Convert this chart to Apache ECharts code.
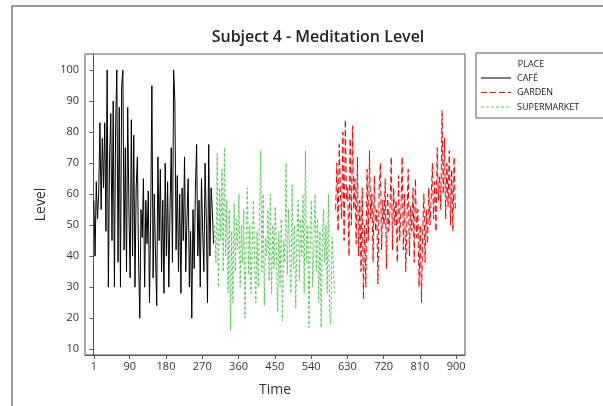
<!DOCTYPE html>
<html>
<head>
<meta charset="utf-8">
<script src="https://cdn.jsdelivr.net/npm/echarts@6/dist/echarts.min.js"></script>
<style>
html,body{margin:0;padding:0;background:#fff;}
#chart{width:603px;height:406px;}
</style>
</head>
<body>
<div id="chart"></div>
<script>
// Tick labels
const xTicks = [1, 90, 180, 270, 360, 450, 540, 630, 720, 810, 900];
const yTicks = [10, 20, 30, 40, 50, 60, 70, 80, 90, 100];
const places = ['CAFÉ', 'GARDEN', 'SUPERMARKET'];

// Time sampling of each segment (start time, step between readings)
const cafeStart = 1, superStart = 301, gardenStart = 601, timeStep = 3;

// Meditation level values
const cafe = [
  58, 40, 64, 52, 60, 83, 55, 78,
  62, 83, 48, 100, 30, 72, 86, 45,
  90, 30, 82, 100, 38, 88, 30, 95,
  100, 42, 75, 35, 88, 55, 33, 84,
  40, 79, 30, 62, 72, 38, 20, 55,
  46, 65, 30, 58, 44, 61, 25, 52,
  95, 33, 60, 40, 24, 72, 45, 68,
  35, 58, 28, 70, 40, 64, 30, 55,
  75, 38, 100, 90, 42, 66, 35, 60,
  28, 62, 45, 72, 35, 52, 65, 30,
  48, 20, 55, 36, 62, 76, 40, 58,
  30, 65, 48, 35, 70, 52, 25, 76,
  40, 62, 55, 44
];
const supermarket = [
  50, 38, 73, 30, 62, 45, 68, 35,
  75, 40, 58, 28, 55, 16, 48, 25,
  57, 35, 52, 42, 60, 30, 50, 38,
  55, 20, 45, 62, 34, 50, 28, 44,
  58, 38, 25, 48, 30, 52, 74, 35,
  60, 24, 46, 40, 55, 32, 60, 28,
  50, 36, 56, 42, 22, 48, 30, 52,
  19, 45, 38, 70, 34, 55, 40, 28,
  63, 36, 50, 23, 46, 58, 32, 52,
  40, 60, 28, 74, 38, 50, 17, 46,
  58, 30, 44, 60, 35, 52, 25, 48,
  17, 45, 55, 38, 50, 28, 60, 22,
  18, 46, 38, 28
];
const garden = [
  55, 70, 48, 76, 60, 52, 80, 45,
  84, 58, 62, 40, 78, 50, 82, 55,
  65, 44, 72, 40, 58, 35, 62, 26,
  50, 30, 68, 45, 74, 52, 60, 38,
  66, 48, 55, 31, 62, 70, 42, 58,
  50, 65, 36, 60, 48, 55, 72, 42,
  62, 50, 58, 38, 66, 45, 55, 72,
  42, 60, 35, 52, 68, 40, 56, 48,
  62, 38, 65, 46, 55, 30, 50, 25,
  48, 60, 38, 55, 44, 62, 50, 58,
  70, 52, 64, 48, 75, 58, 66, 55,
  87, 60, 78, 52, 70, 56, 74, 50,
  68, 48, 72, 55
];

const placeColors = {'CAFÉ': '#000000', 'GARDEN': '#f00000', 'SUPERMARKET': '#5ac85a'};
const placeDash = {'CAFÉ': null, 'GARDEN': [6, 3], 'SUPERMARKET': [3, 2]};

function toPoints(values, start) {
  return values.map((v, i) => [start + i * timeStep, v]);
}
function makeSeries(name, values, start) {
  return {
    name: name, type: 'line', data: toPoints(values, start),
    showSymbol: false, symbol: 'none',
    lineStyle: {color: placeColors[name], width: 1, type: placeDash[name] || 'solid'},
    itemStyle: {color: placeColors[name]}
  };
}

const font = 'Open Sans, DejaVu Sans, sans-serif';

// Legend box drawn as graphics
const legendGraphics = [
  {type: 'rect', shape: {x: 476, y: 53, width: 140, height: 65},
   style: {fill: '#fff', stroke: '#555', lineWidth: 1}, silent: true},
  {type: 'text', x: 531, y: 64,
   style: {text: 'PLACE', font: '9px ' + font, fill: '#222', align: 'center', verticalAlign: 'middle'}}
];
places.forEach((p, i) => {
  const y = 78 + i * 14.5;
  legendGraphics.push({type: 'line', shape: {x1: 481, y1: y, x2: 511, y2: y},
    style: {stroke: placeColors[p], lineWidth: 1, lineDash: placeDash[p]}, silent: true});
  legendGraphics.push({type: 'text', x: 517, y: y,
    style: {text: p, font: '9px ' + font, fill: '#222', align: 'left', verticalAlign: 'middle'}});
});

const chart = echarts.init(document.getElementById('chart'), null, {renderer: 'canvas'});
chart.setOption({
  animation: false,
  backgroundColor: '#fff',
  title: {
    text: 'Subject 4 - Meditation Level',
    left: 313, top: 24, textAlign: 'center',
    textStyle: {fontFamily: font, fontSize: 16, fontWeight: 600, color: '#222'}
  },
  graphic: [
    {type: 'rect', shape: {x: 12, y: 6, width: 700, height: 500},
     style: {fill: 'none', stroke: '#333', lineWidth: 1}, silent: true, z: -1}
  ].concat(legendGraphics),
  grid: {left: 85, right: 138, top: 54, bottom: 51, show: true, borderColor: '#555', borderWidth: 1, backgroundColor: '#fff'},
  xAxis: {
    type: 'value', min: -21, max: 922,
    name: 'Time', nameLocation: 'middle', nameGap: 28,
    nameTextStyle: {fontFamily: font, fontSize: 14, color: '#333'},
    axisLine: {show: true, lineStyle: {color: '#555'}},
    axisTick: {show: true, length: 4, customValues: xTicks, lineStyle: {color: '#555'}},
    axisLabel: {customValues: xTicks, fontFamily: font, fontSize: 11, color: '#333', margin: 6},
    splitLine: {show: false}
  },
  yAxis: {
    type: 'value', min: 8.1, max: 105.2,
    name: 'Level', nameLocation: 'middle', nameGap: 37, nameRotate: 90,
    nameTextStyle: {fontFamily: font, fontSize: 14, color: '#333'},
    axisLine: {show: true, lineStyle: {color: '#555'}},
    axisTick: {show: true, length: 4, customValues: yTicks, lineStyle: {color: '#555'}},
    axisLabel: {customValues: yTicks, fontFamily: font, fontSize: 11, color: '#333', margin: 6},
    splitLine: {show: false}
  },
  series: [
    makeSeries('CAFÉ', cafe, cafeStart),
    makeSeries('GARDEN', garden, gardenStart),
    makeSeries('SUPERMARKET', supermarket, superStart)
  ]
});
</script>
</body>
</html>
